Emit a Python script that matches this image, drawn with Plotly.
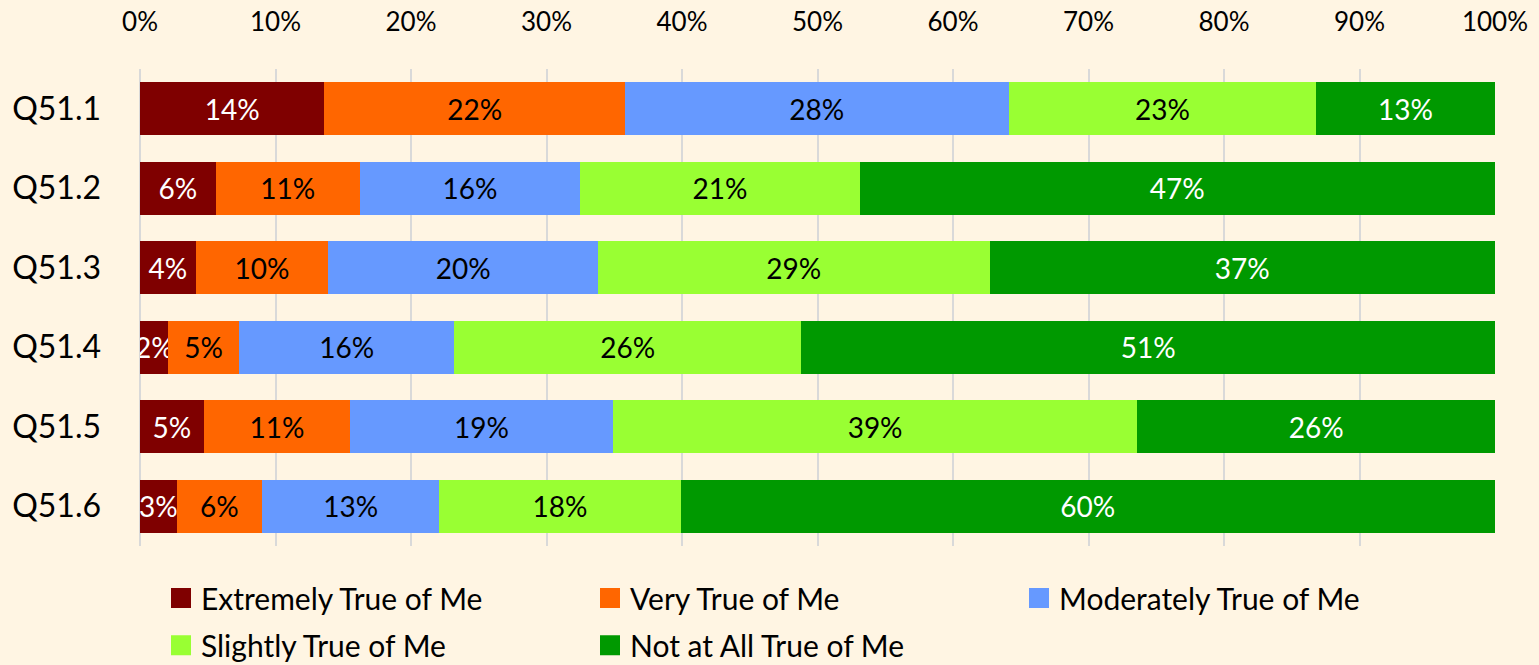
import plotly.graph_objects as go

# Survey items (top to bottom)
questions = ["Q51.1", "Q51.2", "Q51.3", "Q51.4", "Q51.5", "Q51.6"]

# Share of respondents per answer, in percent
extremely = [13.6, 5.6, 4.1, 2.1, 4.7, 2.7]
very = [22.2, 10.6, 9.8, 5.2, 10.8, 6.3]
moderately = [28.3, 16.3, 19.9, 15.9, 19.4, 13.1]
slightly = [22.7, 20.6, 28.9, 25.6, 38.7, 17.8]
not_at_all = [13.2, 46.9, 37.3, 51.2, 26.4, 60.1]

series_names = [
    "Extremely True of Me",
    "Very True of Me",
    "Moderately True of Me",
    "Slightly True of Me",
    "Not at All True of Me",
]
series_values = [extremely, very, moderately, slightly, not_at_all]
series_colors = ["#7F0000", "#FF6600", "#6699FF", "#99FF33", "#009900"]
label_colors = ["white", "black", "black", "black", "white"]
legend_ids = ["legend", "legend", "legend", "legend2", "legend2"]

FONT = "Lato"

fig = go.Figure()
for name, vals, col, tcol, lg in zip(series_names, series_values, series_colors, label_colors, legend_ids):
    fig.add_trace(go.Bar(
        y=questions,
        x=vals,
        name=name,
        orientation="h",
        marker=dict(color=col, line=dict(width=0)),
        texttemplate="%{x:.0f}%",
        textposition="inside",
        insidetextanchor="middle",
        textangle=0,
        constraintext="none",
        textfont=dict(family=FONT, size=28, color=tcol),
        showlegend=False,
        hoverinfo="skip",
    ))
    # square legend swatch
    fig.add_trace(go.Scatter(
        x=[None], y=[None],
        mode="markers",
        name=name,
        legend=lg,
        marker=dict(symbol="square", size=16, color=col, line=dict(width=4, color=col)),
        showlegend=True,
    ))

legend_common = dict(
    orientation="h",
    traceorder="normal",
    entrywidth=384,
    entrywidthmode="pixels",
    font=dict(family=FONT, size=30, color="black"),
    bgcolor="rgba(0,0,0,0)",
    xanchor="left",
    yanchor="middle",
    itemclick=False,
    itemdoubleclick=False,
)

fig.update_layout(
    width=1539,
    height=665,
    barmode="stack",
    bargap=0.33,
    paper_bgcolor="#FFF5E3",
    plot_bgcolor="#FFF5E3",
    margin=dict(l=140, r=44, t=69, b=119, autoexpand=False),
    font=dict(family=FONT, size=26, color="black"),
    xaxis=dict(
        side="top",
        range=[0, 100],
        dtick=10,
        ticksuffix="%",
        showgrid=True,
        gridcolor="#D9D9D9",
        gridwidth=2,
        zeroline=True,
        zerolinecolor="#D9D9D9",
        zerolinewidth=2,
        showline=False,
        ticks="",
        ticklabelstandoff=32,
        tickfont=dict(family=FONT, size=26, color="black"),
        fixedrange=True,
    ),
    yaxis=dict(
        autorange="reversed",
        showgrid=False,
        showline=False,
        ticks="",
        ticklabelstandoff=38,
        tickfont=dict(family=FONT, size=32, color="black"),
        fixedrange=True,
    ),
    legend=dict(x=0.0155, y=-0.109, **legend_common),
    legend2=dict(x=0.0155, y=-0.208, **legend_common),
)

fig.write_html("out.html")
